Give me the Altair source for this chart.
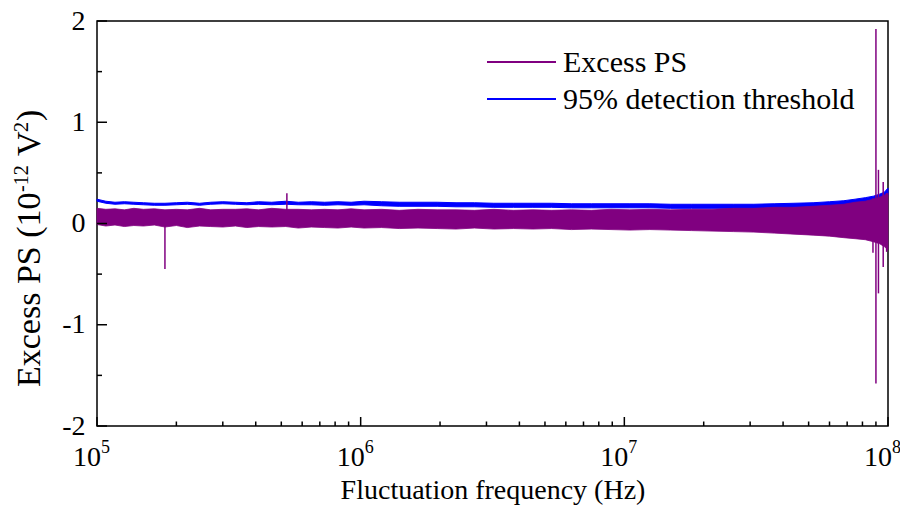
import altair as alt
import pandas as pd

FONT = "Times New Roman, Liberation Serif, serif"
PURPLE = "#800080"
BLUE = "#0000FF"

# ---- data ----
freq = [1.00e5, 1.08e5, 1.17e5, 1.27e5, 1.38e5, 1.50e5, 1.65e5, 1.81e5, 2.0e5, 2.2e5,
        2.45e5, 2.7e5, 3.0e5, 3.35e5, 3.7e5, 4.1e5, 4.6e5, 5.2e5, 5.8e5, 6.5e5,
        7.3e5, 8.2e5, 9.2e5, 1.03e6, 1.2e6, 1.4e6, 1.65e6, 1.95e6, 2.3e6, 2.7e6,
        3.2e6, 3.8e6, 4.5e6, 5.3e6, 6.3e6, 7.5e6, 8.9e6, 1.05e7, 1.25e7, 1.5e7,
        1.8e7, 2.15e7, 2.6e7, 3.1e7, 3.7e7, 4.4e7, 5.2e7, 6.0e7, 6.8e7, 7.5e7,
        8.2e7, 8.8e7, 9.3e7, 9.7e7, 1.0e8]

ps_hi = [0.15, 0.14, 0.145, 0.135, 0.15, 0.14, 0.145, 0.135, 0.14, 0.135,
         0.15, 0.135, 0.14, 0.14, 0.145, 0.135, 0.15, 0.14, 0.14, 0.135,
         0.14, 0.135, 0.145, 0.135, 0.14, 0.13, 0.14, 0.135, 0.135, 0.13,
         0.14, 0.13, 0.135, 0.13, 0.135, 0.13, 0.14, 0.135, 0.14, 0.135,
         0.14, 0.14, 0.15, 0.15, 0.16, 0.16, 0.17, 0.18, 0.19, 0.21,
         0.22, 0.24, 0.26, 0.28, 0.30]

ps_lo = [-0.01, -0.025, -0.015, -0.03, -0.02, -0.025, -0.015, -0.035, -0.02, -0.04,
         -0.025, -0.03, -0.035, -0.025, -0.04, -0.03, -0.035, -0.03, -0.045, -0.035,
         -0.04, -0.045, -0.035, -0.045, -0.04, -0.05, -0.045, -0.05, -0.055, -0.045,
         -0.055, -0.05, -0.055, -0.05, -0.06, -0.055, -0.06, -0.065, -0.06, -0.065,
         -0.07, -0.075, -0.08, -0.085, -0.095, -0.105, -0.115, -0.125, -0.14, -0.15,
         -0.16, -0.18, -0.20, -0.23, -0.26]

thr_hi = [0.24, 0.22, 0.21, 0.215, 0.21, 0.205, 0.20, 0.20, 0.205, 0.21,
          0.20, 0.21, 0.215, 0.21, 0.205, 0.215, 0.21, 0.22, 0.21, 0.215,
          0.21, 0.215, 0.21, 0.22, 0.215, 0.21, 0.21, 0.21, 0.205, 0.205,
          0.20, 0.20, 0.20, 0.20, 0.195, 0.195, 0.195, 0.195, 0.195, 0.19,
          0.19, 0.19, 0.19, 0.19, 0.195, 0.20, 0.205, 0.215, 0.225, 0.24,
          0.255, 0.27, 0.29, 0.31, 0.35]

thr_lo = [0.22, 0.20, 0.19, 0.195, 0.19, 0.185, 0.18, 0.18, 0.185, 0.19,
          0.18, 0.19, 0.195, 0.19, 0.185, 0.19, 0.185, 0.19, 0.185, 0.185,
          0.18, 0.185, 0.18, 0.185, 0.175, 0.17, 0.17, 0.17, 0.165, 0.165,
          0.16, 0.16, 0.16, 0.16, 0.155, 0.155, 0.155, 0.155, 0.155, 0.15,
          0.15, 0.15, 0.15, 0.15, 0.155, 0.16, 0.165, 0.17, 0.18, 0.19,
          0.20, 0.215, 0.23, 0.25, 0.28]

spike_freq = [1.81e5, 5.25e5, 8.77e7, 9.0e7, 9.2e7, 9.59e7, 9.88e7]
spike_top = [0.05, 0.30, 0.25, 1.92, 0.53, 0.41, 0.30]
spike_bot = [-0.45, 0.05, -0.29, -1.58, -0.69, -0.43, -0.28]

x_major = [1e5, 1e6, 1e7, 1e8]
x_exponents = ["5", "6", "7", "8"]
x_minor = [2e5, 3e5, 4e5, 5e5, 6e5, 7e5, 8e5, 9e5,
           2e6, 3e6, 4e6, 5e6, 6e6, 7e6, 8e6, 9e6,
           2e7, 3e7, 4e7, 5e7, 6e7, 7e7, 8e7, 9e7]
y_major = [-2, -1, 0, 1, 2]
y_minor = [-1.5, -0.5, 0.5, 1.5]

legend_labels = ["Excess PS", "95% detection threshold"]
y_title_parts = ["Excess PS (10", "-12", "V", "2", ")"]

# ---- chart ----
W, H = 791, 405
xs = alt.Scale(type="log", domain=[1e5, 1e8])
ys = alt.Scale(domain=[-2, 2])

band = pd.DataFrame(dict(f=freq, hi=ps_hi, lo=ps_lo, thi=thr_hi, tlo=thr_lo))

x_enc = alt.X("f:Q", scale=xs, axis=alt.Axis(
    labels=False, ticks=False, domain=False, grid=False,
    title="Fluctuation frequency (Hz)", titleFont=FONT, titleFontSize=28,
    titleFontWeight="normal", titleColor="black", titlePadding=50))
y_enc = alt.Y("tlo:Q", scale=ys, title=None, axis=alt.Axis(
    values=y_major, ticks=False, domain=False, grid=False,
    labelFont=FONT, labelFontSize=28, labelColor="black", labelPadding=12,
    labelExpr="datum.value < 0 ? '-' + abs(datum.value) : '' + datum.value"))

thr = alt.Chart(band).mark_area(color=BLUE, stroke=BLUE, strokeWidth=1).encode(
    x=x_enc, y=y_enc, y2="thi:Q")
ps = alt.Chart(band).mark_area(color=PURPLE, stroke=PURPLE, strokeWidth=0.8).encode(
    x="f:Q", y="lo:Q", y2="hi:Q")

spikes = alt.Chart(pd.DataFrame(dict(f=spike_freq, t=spike_top, b=spike_bot))).mark_rule(
    color=PURPLE, strokeWidth=1.5).encode(x="f:Q", y="b:Q", y2="t:Q")

xmaj = alt.Chart(pd.DataFrame(dict(f=x_major))).mark_rule(color="black", strokeWidth=1.5).encode(
    x="f:Q", y=alt.value(H), y2=alt.value(H - 9))
xmin = alt.Chart(pd.DataFrame(dict(f=x_minor))).mark_rule(color="black", strokeWidth=1.5).encode(
    x="f:Q", y=alt.value(H), y2=alt.value(H - 4.5))
ymaj = alt.Chart(pd.DataFrame(dict(v=y_major))).mark_rule(color="black", strokeWidth=1.5).encode(
    y="v:Q", x=alt.value(0), x2=alt.value(10))
ymin = alt.Chart(pd.DataFrame(dict(v=y_minor))).mark_rule(color="black", strokeWidth=1.5).encode(
    y="v:Q", x=alt.value(0), x2=alt.value(5))

tick_df = pd.DataFrame(dict(f=x_major, e=x_exponents))
lab10 = alt.Chart(tick_df).mark_text(font=FONT, fontSize=28, align="right",
                                     baseline="alphabetic", dx=4, color="black").encode(
    x="f:Q", y=alt.value(445), text=alt.value("10"))
labexp = alt.Chart(tick_df).mark_text(font=FONT, fontSize=18, align="left",
                                      baseline="alphabetic", dx=4, color="black").encode(
    x="f:Q", y=alt.value(432), text="e:N")

leg_r1 = alt.Chart(band).mark_rule(color=PURPLE, strokeWidth=1.5).encode(
    x=alt.value(390), x2=alt.value(459), y=alt.value(41))
leg_r2 = alt.Chart(band).mark_rule(color=BLUE, strokeWidth=1.5).encode(
    x=alt.value(390), x2=alt.value(459), y=alt.value(78))
leg_t1 = alt.Chart(pd.DataFrame(dict(t=[legend_labels[0]]))).mark_text(
    font=FONT, fontSize=30, align="left", baseline="middle", color="black").encode(
    x=alt.value(466), y=alt.value(42), text="t:N")
leg_t2 = alt.Chart(pd.DataFrame(dict(t=[legend_labels[1]]))).mark_text(
    font=FONT, fontSize=30, align="left", baseline="middle", color="black").encode(
    x=alt.value(466), y=alt.value(79), text="t:N")

# rotated y-axis title built from pieces (main text + superscripts)
TS, SS = 34, 20
piece_style = [(TS, 0, 0), (SS, 195, -12), (TS, 231, 0), (SS, 255, -12), (TS, 266, 0)]
title_layers = []
for txt, (fs, ddx, ddy) in zip(y_title_parts, piece_style):
    title_layers.append(
        alt.Chart(pd.DataFrame(dict(t=[txt]))).mark_text(
            font=FONT, fontSize=fs, angle=270, align="left", baseline="alphabetic",
            dx=ddx, dy=ddy, color="black").encode(
            x=alt.value(-57), y=alt.value(366), text="t:N"))

chart = alt.layer(thr, ps, spikes, xmaj, xmin, ymaj, ymin, lab10, labexp,
                  leg_r1, leg_r2, leg_t1, leg_t2, *title_layers).properties(
    width=W, height=H,
    autosize=alt.AutoSizeParams(type="none"),
    padding={"left": 89, "top": 13, "right": 12, "bottom": 81},
    background="white",
).configure_view(stroke="black", strokeWidth=1.5)

chart.save("out.html", embed_options={"renderer": "svg", "actions": False})
